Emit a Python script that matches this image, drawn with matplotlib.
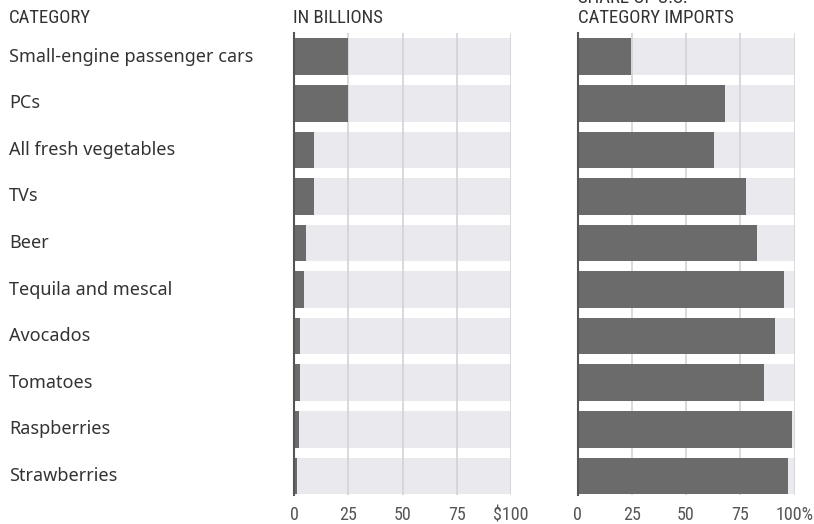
import matplotlib
matplotlib.use("Agg")
import matplotlib.pyplot as plt
import matplotlib.transforms as mtransforms
from matplotlib import font_manager

categories = ["Small-engine passenger cars", "PCs", "All fresh vegetables", "TVs", "Beer",
              "Tequila and mescal", "Avocados", "Tomatoes", "Raspberries", "Strawberries"]
value_billions = [25, 25, 9.3, 9.3, 5.6, 4.7, 2.7, 2.7, 2.1, 1.2]
share_pct = [24.8, 67.8, 62.7, 77.6, 82.9, 95.3, 91.2, 85.8, 99.0, 96.9]
ticks = [0, 25, 50, 75, 100]
left_ticklabels = ["0", "25", "50", "75", "$100"]
right_ticklabels = ["0", "25", "50", "75", "100%"]

available = {f.name for f in font_manager.fontManager.ttflist}
narrow = "Roboto"
narrow_size = 12
for cand in ["Liberation Sans Narrow", "Roboto Condensed", "Open Sans Condensed",
             "Noto Sans Condensed", "DejaVu Sans Condensed"]:
    if cand in available:
        narrow = cand
        narrow_size = 13.5
        break
body = "Noto Sans" if "Noto Sans" in available else "DejaVu Sans"

W, H = 814, 524
fig = plt.figure(figsize=(W / 100, H / 100), dpi=100)

BG = "#e9e9ee"
BAR = "#6b6b6b"
GRID = "#d3d3d7"
TXT = "#333333"

n = len(categories)
ylim = (n - 1 + 0.41, -0.51)
bar_h = 0.786

def make_panel(x0, values, labels):
    ax = fig.add_axes([x0 / W, (H - 495) / H, 217 / W, 462 / H])
    ypos = list(range(n))
    ax.barh(ypos, [100] * n, height=bar_h, color=BG, zorder=1)
    for t in ticks[1:]:
        ax.axvline(t, color=GRID, lw=1.2, zorder=2)
    ax.barh(ypos, values, height=bar_h, color=BAR, zorder=3)
    ax.set_xlim(0, 100)
    ax.set_ylim(*ylim)
    ax.set_xticks(ticks)
    ax.set_xticklabels(labels, fontfamily=narrow, fontsize=narrow_size - 0.5, color="#555555")
    ax.tick_params(axis="x", length=0, pad=8)
    ax.set_yticks([])
    for s in ["top", "right", "bottom"]:
        ax.spines[s].set_visible(False)
    ax.spines["left"].set_color("#555555")
    ax.spines["left"].set_linewidth(1.5)
    ax.spines["left"].set_zorder(4)
    ax.set_facecolor("white")
    return ax

ax1 = make_panel(294, value_billions, left_ticklabels)
ax2 = make_panel(577.5, share_pct, right_ticklabels)

trans = mtransforms.blended_transform_factory(fig.transFigure, ax1.transData)
for i, c in enumerate(categories):
    fig.text(9 / W, i, c, transform=trans, ha="left", va="center",
             fontfamily=body, fontsize=13, color=TXT)

def htext(x, y, s):
    fig.text(x / W, 1 - y / H, s, ha="left", va="center", fontfamily=narrow,
             fontsize=narrow_size, color=TXT)

htext(9, 18, "CATEGORY")
htext(293, 18, "IN BILLIONS")
htext(578, 18, "CATEGORY IMPORTS")
htext(578, -2, "SHARE OF U.S.")

fig.savefig("out.png", dpi=100)
